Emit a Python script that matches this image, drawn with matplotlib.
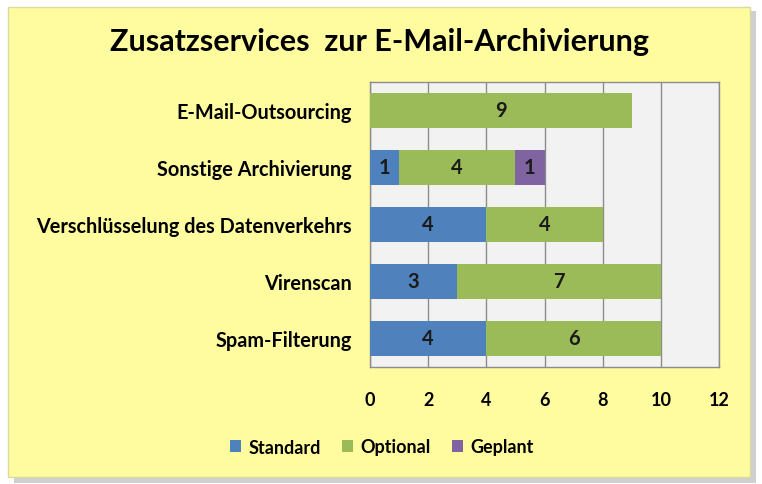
import matplotlib.pyplot as plt
from matplotlib.patches import Rectangle
import numpy as np

categories = ['Spam-Filterung', 'Virenscan', 'Verschlüsselung des Datenverkehrs',
              'Sonstige Archivierung', 'E-Mail-Outsourcing']
standard = [4, 3, 4, 1, 0]
optional = [6, 7, 4, 4, 9]
geplant = [0, 0, 0, 1, 0]
series_names = ['Standard', 'Optional', 'Geplant']
colors = ['#4f81bd', '#9bbb59', '#8064a2']
xticks = [0, 2, 4, 6, 8, 10, 12]

plt.rcParams['font.family'] = ['Lato', 'DejaVu Sans']

W, H = 762, 485
fig = plt.figure(figsize=(W / 100, H / 100), dpi=100)
fig.patch.set_facecolor('white')

# shadow + yellow box
fig.patches.append(Rectangle((14 / W, 1 - 484 / H), 742 / W, 472 / H,
                             transform=fig.transFigure, facecolor='#cfcfcf',
                             edgecolor='none', zorder=0))
fig.patches.append(Rectangle((8 / W, 1 - 478 / H), 742 / W, 470 / H,
                             transform=fig.transFigure, facecolor='#fffb9f',
                             edgecolor='#d9d9a0', linewidth=1, zorder=1))

ax = fig.add_axes([370 / W, 1 - 368 / H, 349 / W, 285 / H])
ax.set_facecolor('#f2f2f2')
ax.set_zorder(2)

y = np.arange(len(categories))
data = [standard, optional, geplant]
left = np.zeros(len(categories))
for vals, name, col in zip(data, series_names, colors):
    vals = np.array(vals, dtype=float)
    bars = ax.barh(y, vals, left=left, height=0.61, color=col, label=name, zorder=3)
    for b, v in zip(bars, vals):
        if v > 0:
            ax.text(b.get_x() + b.get_width() / 2, b.get_y() + b.get_height() / 2,
                    f'{int(v)}', ha='center', va='center', fontsize=14.5,
                    fontweight='bold', color='#1a1a1a', zorder=4)
    left += vals

ax.set_xlim(0, 12)
ax.set_ylim(-0.5, len(categories) - 0.5)
ax.set_xticks(xticks)
ax.set_xticklabels([str(t) for t in xticks], fontsize=13, fontweight='bold')
ax.set_yticks(y)
ax.set_yticklabels(categories, fontsize=14.3, fontweight='bold')
ax.tick_params(axis='both', length=0)
ax.tick_params(axis='x', pad=17)
ax.tick_params(axis='y', pad=13)
ax.grid(axis='x', color='#8c8c8c', linewidth=1, zorder=1)
ax.set_axisbelow(True)
for s in ax.spines.values():
    s.set_color('#8c8c8c')
    s.set_linewidth(1)

fig.text(380 / W, 1 - 42 / H, 'Zusatzservices  zur E-Mail-Archivierung',
         ha='center', va='center', fontsize=22, fontweight='bold', zorder=5)

handles, labels = ax.get_legend_handles_labels()
leg = fig.legend(handles, labels, loc='center', bbox_to_anchor=(382 / W, 1 - 448 / H),
                 ncol=3, frameon=False, prop={'weight': 'bold', 'size': 13},
                 handlelength=0.6, handleheight=0.6, handletextpad=0.4, columnspacing=1.2)

fig.savefig('out.png', dpi=100)
